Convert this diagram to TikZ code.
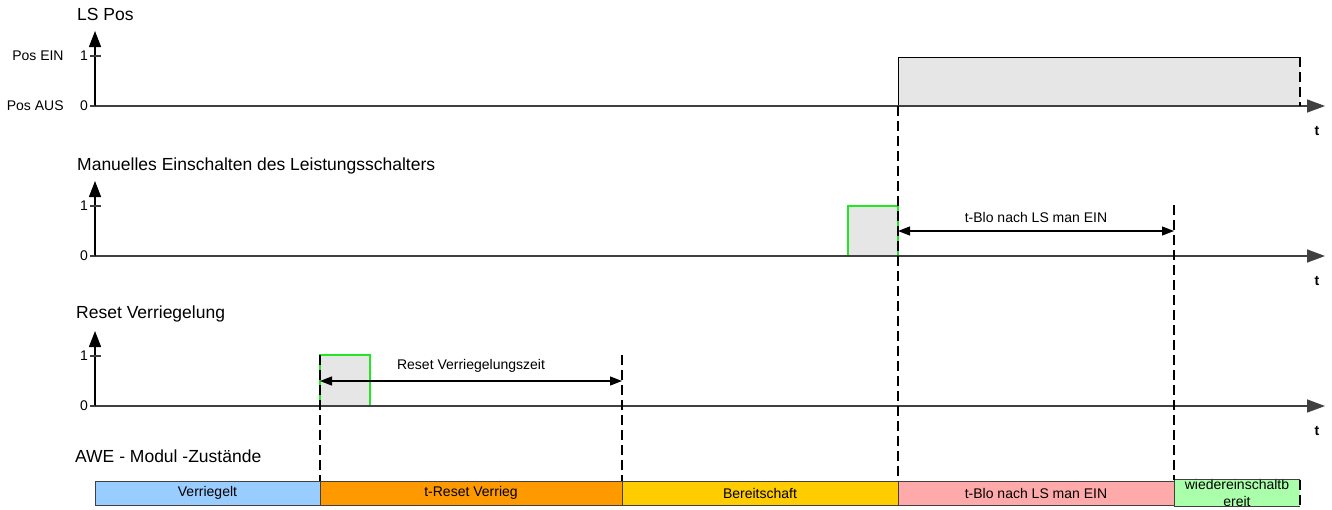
\documentclass[tikz,border=0pt]{standalone}
\usepackage{fontspec}
\setmainfont{Liberation Sans}
\usetikzlibrary{arrows.meta,positioning}
\definecolor{AxisGray}{HTML}{404040}
\definecolor{PulseGray}{HTML}{E6E6E6}
\definecolor{PulseGreen}{HTML}{22E622}
\definecolor{StBlue}{HTML}{99CCFF}
\definecolor{StOrange}{HTML}{FF9900}
\definecolor{StYellow}{HTML}{FFCC00}
\definecolor{StPink}{HTML}{FFAAAA}
\definecolor{StGreen}{HTML}{AAFFAA}
\tikzset{
  axisline/.style={line width=1.4pt,draw=AxisGray,-{Triangle[length=18pt,width=13pt]}},
  yaxisline/.style={line width=1.4pt,draw=black,-{Triangle[length=16pt,width=12pt]}},
  tickline/.style={line width=1.2pt,draw=AxisGray},
  pulse/.style={draw=PulseGreen,line width=1.2pt,fill=PulseGray},
  marker/.style={line width=2.6pt,dash pattern=on 10pt off 5pt},
  dimarrow/.style={line width=1.2pt,{Triangle[length=12pt,width=9pt]}-{Triangle[length=12pt,width=9pt]}},
  paneltitle/.style={font=\fontsize{17.5}{20}\selectfont,inner sep=0pt,anchor=base west},
  ticklab/.style={font=\fontsize{14}{16}\selectfont,inner sep=0pt},
  tlab/.style={font=\fontsize{14}{16}\selectfont\bfseries,inner sep=0pt},
  dimlab/.style={font=\fontsize{14}{16}\selectfont,inner sep=0pt},
  statebox/.style={draw=AxisGray,line width=1pt,minimum height=24pt,
    inner sep=0pt,outer sep=0pt,font=\fontsize{14}{16.5}\selectfont},
}
\begin{document}
\begin{tikzpicture}[x=1pt,y=-1pt]
  \useasboundingbox[fill=white] (0,0) rectangle (1332,509);
  % panel titles
  \node[paneltitle] (titleLS) at (77,20.5) {LS Pos};
  \node[paneltitle] (titleMan) at (77,170) {Manuelles Einschalten des Leistungsschalters};
  \node[paneltitle] (titleRst) at (76,318) {Reset Verriegelung};
  \node[paneltitle] (titleAWE) at (75,462) {AWE - Modul -Zustände};
  % signals
  \fill[PulseGray] (898,57) rectangle (1300,106);
  \draw[line width=1pt] (898,106) -- (898,57) -- (1300,57);
  \draw[pulse] (848,256) rectangle (898,206);
  \draw[pulse] (320,406) rectangle (370,355);
  % axes
  \foreach \yz/\nm in {106/ls,256/man,406/rst}
    {
      \draw[axisline] (95,\yz) -- (1325,\yz);
      \draw[yaxisline] (95,\yz) -- (95,\yz-75);
      \draw[tickline] (90,\yz-50) -- (101,\yz-50);
      \draw[tickline] (90,\yz) -- (95,\yz);
      \node[ticklab,anchor=east] (\nm One) at (88,\yz-50) {1};
      \node[ticklab,anchor=east] (\nm Zero) at (88,\yz) {0};
      \node[tlab] (\nm T) at (1317,\yz+25) {t};
    }
  \node[ticklab,left=16pt of lsOne] (posEin) {Pos EIN};
  \node[ticklab,left=16pt of lsZero] (posAus) {Pos AUS};
  % states
  \node[statebox,fill=StBlue,minimum width=225pt,anchor=north west] (stVer) at (95,481) {Verriegelt};
  \node[statebox,fill=StOrange,minimum width=302pt,right=0pt of stVer] (stRst) {t-Reset Verrieg};
  \node[statebox,fill=StYellow,minimum width=276pt,right=0pt of stRst] (stBer) {Bereitschaft};
  \node[statebox,fill=StPink,minimum width=276pt,right=0pt of stBer] (stBlo) {t-Blo nach LS man EIN};
  \node[statebox,draw=none,fill=StGreen,minimum width=126pt,text width=126pt,align=center,
    right=0pt of stBlo] (stWie) {wiedereinschaltb\\ereit};
  \draw[AxisGray,line width=1pt] (stWie.north east) -- (stWie.north west)
    -- (stWie.south west) -- (stWie.south east);
  \draw[marker] (stWie.north east) -- (stWie.south east);
  % markers
  \coordinate (lsOn) at (898,106);
  \coordinate (lsEnd) at (1300,57);
  \coordinate (lsEndLow) at (1300,106);
  \coordinate (bloEnd) at (1174,205);
  \coordinate (rstOn) at (320,355);
  \coordinate (rstEnd) at (622,355);
  \draw[marker] (lsOn) -- (stBlo.north west);
  \draw[marker] (lsEnd) -- (lsEndLow);
  \draw[marker] (bloEnd) -- (stWie.north west);
  \draw[marker] (rstOn) -- (stRst.north west);
  \draw[marker] (rstEnd) -- (stBer.north west);
  % durations
  \coordinate (bloA) at (898,231);
  \coordinate (bloB) at (1174,231);
  \coordinate (rstA) at (320,381);
  \coordinate (rstB) at (622,381);
  \draw[dimarrow] (bloA) -- node[dimlab,above=8pt] (bloLab) {t-Blo nach LS man EIN} (bloB);
  \draw[dimarrow] (rstA) -- node[dimlab,above=8pt] (rstLab) {Reset Verriegelungszeit} (rstB);
\end{tikzpicture}
\end{document}
